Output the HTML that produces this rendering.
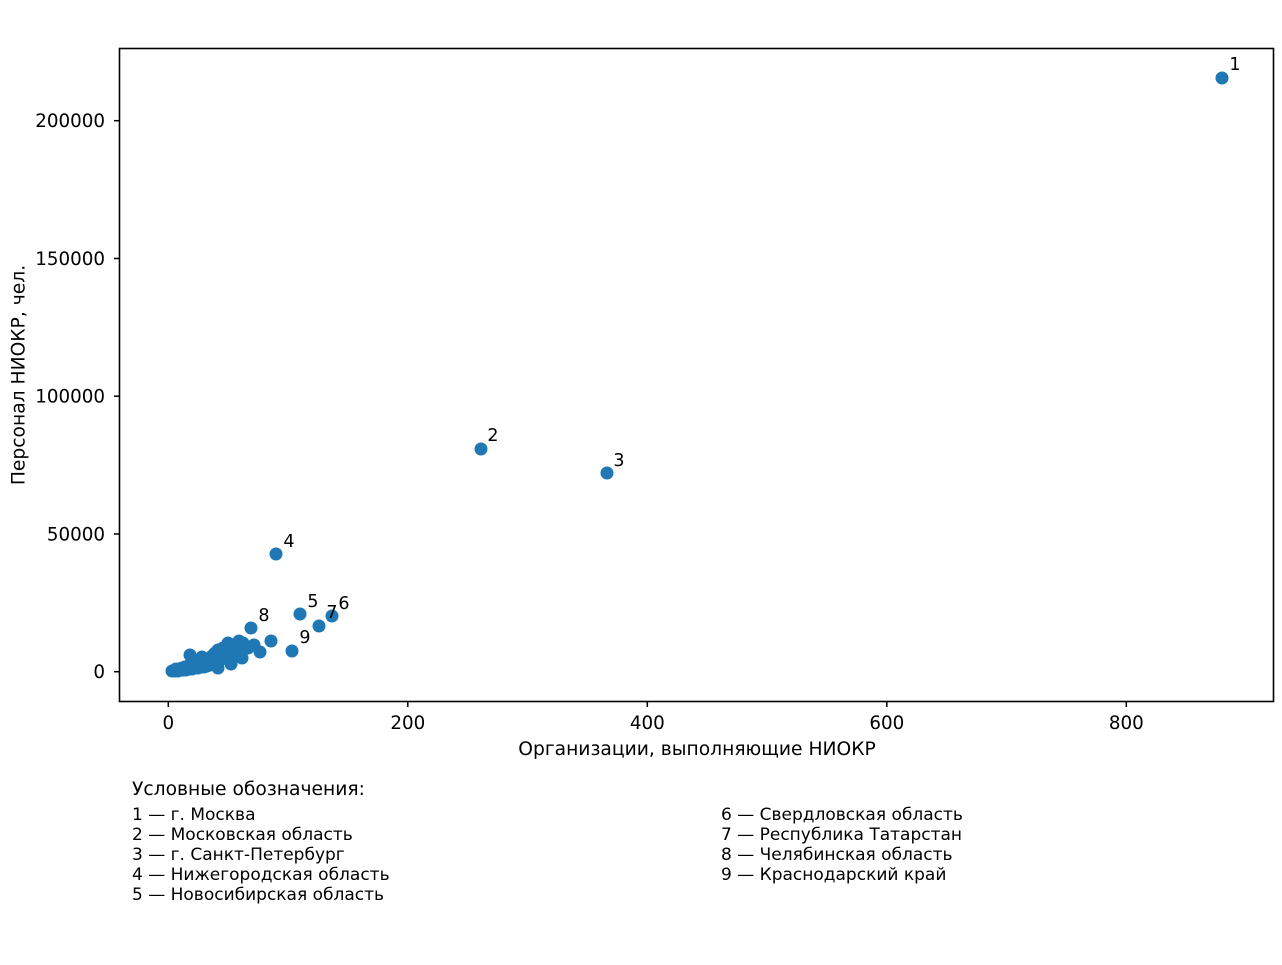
<!DOCTYPE html>
<html><head><meta charset="utf-8"><style>
html,body{margin:0;padding:0;background:#fff;}
svg{display:block;}
text{font-family:"DejaVu Sans","Liberation Sans",sans-serif;fill:#000;}
</style></head><body>
<svg width="1282" height="965" viewBox="0 0 1282 965" xmlns="http://www.w3.org/2000/svg">
<rect width="1282" height="965" fill="#fff"/>
<!-- points -->
<g fill="#1f77b4">
<circle cx="172" cy="671" r="6.5"/><circle cx="175" cy="671" r="6.5"/><circle cx="178" cy="671" r="6.5"/>
<circle cx="180" cy="670" r="6.5"/><circle cx="183" cy="670" r="6.5"/><circle cx="186" cy="670" r="6.5"/>
<circle cx="189" cy="669" r="6.5"/><circle cx="192" cy="669" r="6.5"/><circle cx="195" cy="668" r="6.5"/>
<circle cx="198" cy="668" r="6.5"/><circle cx="201" cy="667" r="6.5"/><circle cx="204" cy="667" r="6.5"/>
<circle cx="207" cy="666" r="6.5"/><circle cx="210" cy="665" r="6.5"/><circle cx="213" cy="664" r="6.5"/>
<circle cx="176" cy="669" r="6.5"/><circle cx="182" cy="668" r="6.5"/><circle cx="188" cy="666" r="6.5"/>
<circle cx="194" cy="664" r="6.5"/><circle cx="200" cy="662" r="6.5"/><circle cx="206" cy="661" r="6.5"/>
<circle cx="190" cy="655" r="6.5"/><circle cx="202" cy="657" r="6.5"/><circle cx="208" cy="659" r="6.5"/>
<circle cx="212" cy="656" r="6.5"/><circle cx="215" cy="653" r="6.5"/><circle cx="218" cy="668" r="6.5"/>
<circle cx="223" cy="648" r="6.5"/><circle cx="226" cy="655" r="6.5"/><circle cx="231" cy="664" r="6.5"/>
<circle cx="233" cy="645" r="6.5"/><circle cx="236" cy="652" r="6.5"/><circle cx="242" cy="658" r="6.5"/>
<circle cx="243" cy="643" r="6.5"/><circle cx="248" cy="648" r="6.5"/><circle cx="254" cy="645" r="6.5"/>
<circle cx="260" cy="652" r="6.5"/><circle cx="271" cy="641" r="6.5"/><circle cx="251" cy="628" r="6.5"/>
<circle cx="209" cy="662" r="6.5"/><circle cx="220" cy="660" r="6.5"/><circle cx="196" cy="666" r="6.5"/>
<circle cx="185" cy="667" r="6.5"/><circle cx="228" cy="643" r="6.5"/><circle cx="239" cy="641" r="6.5"/>
<circle cx="218" cy="650" r="6.5"/><circle cx="230" cy="657" r="6.5"/>
<circle cx="276" cy="554" r="6.5"/>
<circle cx="300" cy="614" r="6.5"/>
<circle cx="332" cy="616" r="6.5"/>
<circle cx="319" cy="626" r="6.5"/>
<circle cx="292" cy="651" r="6.5"/>
<circle cx="481" cy="449" r="6.5"/>
<circle cx="607" cy="473" r="6.5"/>
<circle cx="1222" cy="78" r="6.5"/>
</g>
<!-- point labels -->
<g font-size="17.5" text-anchor="middle">
<text x="1235" y="70">1</text>
<text x="493" y="441">2</text>
<text x="619" y="466">3</text>
<text x="289" y="547">4</text>
<text x="313" y="607">5</text>
<text x="344" y="609">6</text>
<text x="332" y="618">7</text>
<text x="264" y="621">8</text>
<text x="305" y="643">9</text>
</g>
<!-- axes frame -->
<rect x="119.5" y="48.5" width="1154" height="653" fill="none" stroke="#000" stroke-width="1.6"/>
<!-- ticks -->
<g stroke="#000" stroke-width="1.5">
<line x1="168.3" y1="702" x2="168.3" y2="707"/>
<line x1="407.8" y1="702" x2="407.8" y2="707"/>
<line x1="647.3" y1="702" x2="647.3" y2="707"/>
<line x1="886.8" y1="702" x2="886.8" y2="707"/>
<line x1="1126.3" y1="702" x2="1126.3" y2="707"/>
<line x1="114" y1="671.7" x2="119" y2="671.7"/>
<line x1="114" y1="534" x2="119" y2="534"/>
<line x1="114" y1="396.2" x2="119" y2="396.2"/>
<line x1="114" y1="258.5" x2="119" y2="258.5"/>
<line x1="114" y1="120.7" x2="119" y2="120.7"/>
</g>
<g font-size="18.3" text-anchor="middle">
<text x="168.3" y="729">0</text>
<text x="407.8" y="729">200</text>
<text x="647.3" y="729">400</text>
<text x="886.8" y="729">600</text>
<text x="1126.3" y="729">800</text>
</g>
<g font-size="18.3" text-anchor="end">
<text x="105" y="678.2">0</text>
<text x="105" y="540.5">50000</text>
<text x="105" y="402.7">100000</text>
<text x="105" y="265">150000</text>
<text x="105" y="127.2">200000</text>
</g>
<text x="697" y="755" font-size="18.7" text-anchor="middle">Организации, выполняющие НИОКР</text>
<text x="0" y="0" font-size="18.7" text-anchor="middle" transform="translate(24.5,375) rotate(-90)">Персонал НИОКР, чел.</text>
<!-- legend -->
<text x="132" y="795" font-size="18.7">Условные обозначения:</text>
<g font-size="17">
<text x="132" y="820">1 — г. Москва</text>
<text x="132" y="840">2 — Московская область</text>
<text x="132" y="860">3 — г. Санкт-Петербург</text>
<text x="132" y="880">4 — Нижегородская область</text>
<text x="132" y="900">5 — Новосибирская область</text>
<text x="721" y="820">6 — Свердловская область</text>
<text x="721" y="840">7 — Республика Татарстан</text>
<text x="721" y="860">8 — Челябинская область</text>
<text x="721" y="880">9 — Краснодарский край</text>
</g>
</svg>
</body></html>
